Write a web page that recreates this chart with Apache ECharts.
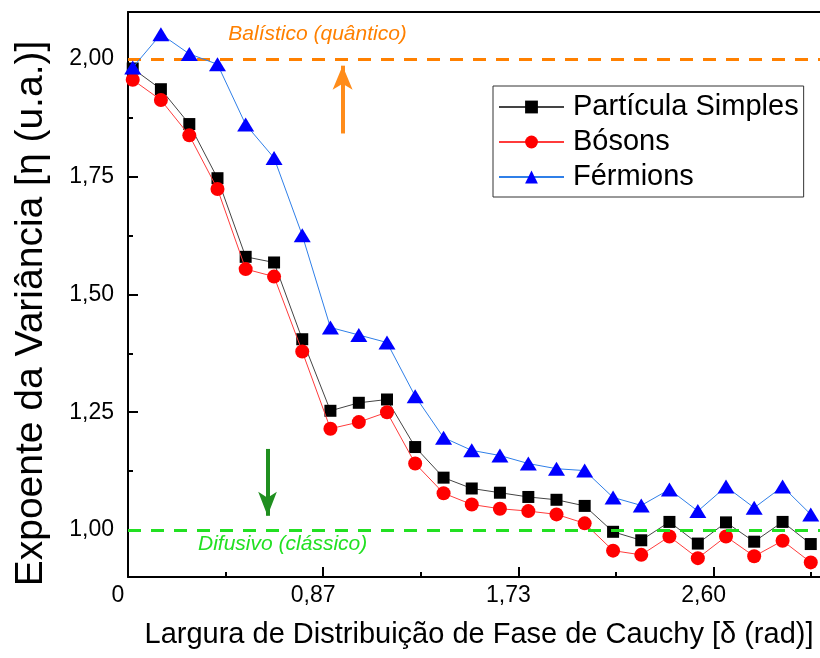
<!DOCTYPE html>
<html>
<head>
<meta charset="utf-8">
<script src="https://cdn.jsdelivr.net/npm/echarts@6/dist/echarts.min.js"></script>
<style>html,body{margin:0;padding:0;background:#fff}#c{width:820px;height:658px}</style>
</head>
<body>
<div id="c"></div>
<script>
// ---- data ----
const xValues = [0.021, 0.146, 0.272, 0.397, 0.522, 0.648, 0.773, 0.898, 1.024, 1.149, 1.274, 1.400, 1.525,
                 1.650, 1.776, 1.901, 2.026, 2.152, 2.277, 2.402, 2.528, 2.653, 2.778, 2.904, 3.029];
const particulaSimples = [1.980, 1.936, 1.862, 1.747, 1.580, 1.568, 1.405, 1.253, 1.270, 1.277, 1.176, 1.111, 1.088,
                          1.079, 1.070, 1.064, 1.051, 0.996, 0.978, 1.017, 0.971, 1.016, 0.975, 1.017, 0.970];
const bosons = [1.956, 1.913, 1.838, 1.724, 1.554, 1.538, 1.379, 1.215, 1.229, 1.250, 1.141, 1.078, 1.054,
                1.045, 1.040, 1.033, 1.014, 0.956, 0.947, 0.986, 0.940, 0.986, 0.944, 0.977, 0.931];
const fermions = [1.982, 2.053, 2.011, 1.989, 1.861, 1.790, 1.626, 1.430, 1.414, 1.398, 1.284, 1.196, 1.169,
                  1.158, 1.141, 1.130, 1.126, 1.069, 1.052, 1.086, 1.040, 1.092, 1.047, 1.092, 1.033];
const seriesNames = ['Partícula Simples', 'Bósons', 'Férmions'];
const xMajorTicks = [0, 0.866, 1.732, 2.598];
const xMinorTicks = [0.433, 1.299, 2.165, 3.031];
const yMajorTicks = [1.00, 1.25, 1.50, 1.75, 2.00];
const yMinorTicks = [1.125, 1.375, 1.625, 1.875];
const ballisticLevel = 2.0;
const diffusiveLevel = 1.0;
const ballisticArrow = [[0.952, 1.842], [0.952, 1.986]];
const diffusiveArrow = [[0.619, 1.172], [0.619, 1.030]];
const ballisticText = ['Balístico (quântico)', 0.841, 2.053];
const diffusiveText = ['Difusivo (clássico)', 0.686, 0.970];
const xTitle = 'Largura de Distribuição de Fase de Cauchy [δ (rad)]';
const yTitle = 'Expoente da Variância [η (u.a.)]';

const FONT = "'Liberation Sans', Arial, sans-serif";
const X_MIN = 0, X_MAX = 3.07, Y_MIN = 0.9, Y_MAX = 2.1;
const zip = (ys) => xValues.map((x, i) => [x, ys[i]]);
const fmt = (v) => (v === 0 ? '0' : v.toFixed(2).replace('.', ','));

const chart = echarts.init(document.getElementById('c'), null, {renderer: 'canvas'});
const axisBase = {type: 'value', splitLine: {show: false}};
const option = {
  animation: false,
  textStyle: {fontFamily: FONT},
  grid: {left: 128, top: 12, right: 0, bottom: 81, containLabel: false},
  legend: {
    orient: 'vertical', left: 493, top: 86,
    backgroundColor: '#fff', borderColor: '#333', borderWidth: 1, borderRadius: 0,
    padding: [6, 5, 5, 5], itemWidth: 65, itemHeight: 16, itemGap: 5,
    textStyle: {fontSize: 29, color: '#000', fontFamily: FONT, lineHeight: 30, padding: [0, 0, 0, 4]},
    data: seriesNames
  },
  xAxis: [
    Object.assign({}, axisBase, {
      min: X_MIN, max: X_MAX, position: 'bottom',
      axisLine: {onZero: false, lineStyle: {color: '#000', width: 2}},
      axisTick: {inside: true, length: 10, customValues: xMajorTicks, lineStyle: {color: '#000', width: 2}},
      axisLabel: {customValues: xMajorTicks, formatter: fmt, fontSize: 23, color: '#000', margin: 7, padding: [0, 20, 0, 0], fontFamily: FONT},
      name: xTitle, nameLocation: 'middle', nameGap: 43,
      nameTextStyle: {fontSize: 29, color: '#000', fontFamily: FONT, padding: [0, 0, 0, 10]}
    }),
    Object.assign({}, axisBase, {
      min: X_MIN, max: X_MAX, position: 'bottom',
      axisLine: {show: false, onZero: false},
      axisTick: {inside: true, length: 5, customValues: xMinorTicks, lineStyle: {color: '#000', width: 2}},
      axisLabel: {show: false}
    }),
    Object.assign({}, axisBase, {
      min: X_MIN, max: X_MAX, position: 'top',
      axisLine: {show: true, onZero: false, lineStyle: {color: '#000', width: 2}},
      axisTick: {show: false}, axisLabel: {show: false}
    })
  ],
  yAxis: [
    Object.assign({}, axisBase, {
      min: Y_MIN, max: Y_MAX, position: 'left',
      axisLine: {show: true, onZero: false, lineStyle: {color: '#000', width: 2}},
      axisTick: {inside: true, length: 10, customValues: yMajorTicks, lineStyle: {color: '#000', width: 2}},
      axisLabel: {customValues: yMajorTicks, formatter: fmt, fontSize: 23, color: '#000', margin: 14, fontFamily: FONT},
      name: yTitle, nameLocation: 'middle', nameGap: 77, nameRotate: 90,
      nameTextStyle: {fontSize: 39, color: '#000', fontFamily: FONT, padding: [0, 38, 0, 0]}
    }),
    Object.assign({}, axisBase, {
      min: Y_MIN, max: Y_MAX, position: 'left',
      axisLine: {show: false, onZero: false},
      axisTick: {inside: true, length: 5, customValues: yMinorTicks, lineStyle: {color: '#000', width: 2}},
      axisLabel: {show: false}
    })
  ],
  series: [
    {
      name: 'refs', type: 'line', data: [], z: 1, silent: true,
      markLine: {
        silent: true, animation: false,
        label: {show: false},
        data: [
          [{coord: [X_MIN, ballisticLevel], symbol: 'none', lineStyle: {color: '#ff8000', width: 3, type: [13, 10]}},
           {coord: [X_MAX, ballisticLevel], symbol: 'none'}],
          [{coord: [X_MIN, diffusiveLevel], symbol: 'none', lineStyle: {color: '#22e022', width: 3, type: [13, 10]}},
           {coord: [X_MAX, diffusiveLevel], symbol: 'none'}],
          [{coord: ballisticArrow[0], symbol: 'none', lineStyle: {color: '#ff8c1a', width: 4, type: 'solid'}},
           {coord: ballisticArrow[1], symbol: 'arrow', symbolSize: [15, 24]}],
          [{coord: diffusiveArrow[0], symbol: 'none', lineStyle: {color: '#1f8f1f', width: 4, type: 'solid'}},
           {coord: diffusiveArrow[1], symbol: 'arrow', symbolSize: [14, 24]}]
        ]
      },
      markPoint: {
        silent: true, symbol: 'circle', symbolSize: 0,
        data: [
          {coord: [ballisticText[1], ballisticText[2]],
           label: {show: true, position: 'inside', formatter: ballisticText[0], color: '#ff8000', fontSize: 21, fontStyle: 'italic', fontFamily: FONT}},
          {coord: [diffusiveText[1], diffusiveText[2]],
           label: {show: true, position: 'inside', formatter: diffusiveText[0], color: '#22e022', fontSize: 21, fontStyle: 'italic', fontFamily: FONT}}
        ]
      }
    },
    {
      name: seriesNames[0], type: 'line', data: zip(particulaSimples), z: 3,
      symbol: 'rect', symbolSize: 12, showAllSymbol: true,
      itemStyle: {color: '#000'}, lineStyle: {color: '#444', width: 1}
    },
    {
      name: seriesNames[1], type: 'line', data: zip(bosons), z: 4,
      symbol: 'circle', symbolSize: 14, showAllSymbol: true,
      itemStyle: {color: '#ff0000'}, lineStyle: {color: '#ff3b3b', width: 1}
    },
    {
      name: seriesNames[2], type: 'line', data: zip(fermions), z: 5,
      symbol: 'triangle', symbolSize: [17, 14], showAllSymbol: true,
      itemStyle: {color: '#0000ff'}, lineStyle: {color: '#2f7fe8', width: 1}
    }
  ]
};
chart.setOption(option);
</script>
</body>
</html>
